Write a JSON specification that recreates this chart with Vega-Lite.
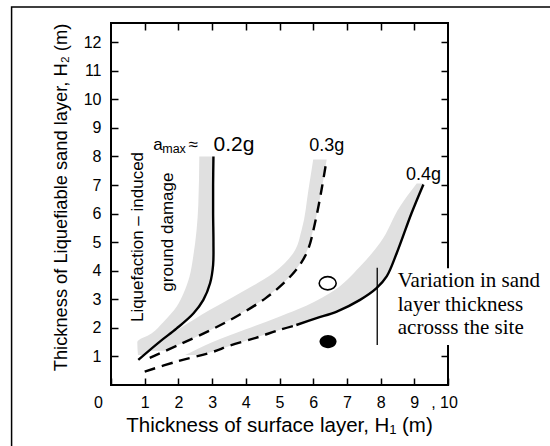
{
  "$schema": "https://vega.github.io/schema/vega-lite/v6.json",
  "width": 337,
  "height": 362,
  "autosize": {"type": "none"},
  "padding": {"left": 111, "top": 23, "right": 102, "bottom": 61},
  "background": "white",
  "config": {
    "font": "Liberation Sans",
    "view": {"stroke": "black", "strokeWidth": 2},
    "axis": {
      "grid": false, "domain": false, "tickColor": "black", "tickWidth": 1.5, "labelFlush": false,
      "labelColor": "black", "titleColor": "black",
      "labelFont": "Liberation Sans", "titleFont": "Liberation Sans", "titleFontWeight": "normal"
    }
  },
  "datasets": {
    "frame": [{"x": -2.95, "x2": 13.05, "y": 13.23, "y2": -3}],
    "box": [{"x": 8.34, "x2": 14, "y": 1.4, "y2": 4.09}],
    "vline": [{"x": 7.9, "y": 1.4, "y2": 4.1}],
    "pts": [{"x": 6.43, "y": 3.56, "f": 0}, {"x": 6.44, "y": 1.52, "f": 1}],
    "bands": [
      {"g": "0.2g", "y": 1.05, "x": 0.8, "x2": 0.95},
      {"g": "0.2g", "y": 1.5, "x": 0.78, "x2": 1.43},
      {"g": "0.2g", "y": 1.8, "x": 1.2, "x2": 1.75},
      {"g": "0.2g", "y": 2.2, "x": 1.55, "x2": 2.16},
      {"g": "0.2g", "y": 2.75, "x": 1.95, "x2": 2.6},
      {"g": "0.2g", "y": 3.2, "x": 2.15, "x2": 2.82},
      {"g": "0.2g", "y": 3.8, "x": 2.33, "x2": 2.98},
      {"g": "0.2g", "y": 4.5, "x": 2.44, "x2": 3.03},
      {"g": "0.2g", "y": 6.3, "x": 2.59, "x2": 3.03},
      {"g": "0.2g", "y": 8.0, "x": 2.62, "x2": 3.04},
      {"g": "0.3g", "y": 1.2, "x": 1.15, "x2": 1.62},
      {"g": "0.3g", "y": 1.45, "x": 1.3, "x2": 2.09},
      {"g": "0.3g", "y": 1.95, "x": 2.0, "x2": 3.0},
      {"g": "0.3g", "y": 2.63, "x": 2.94, "x2": 4.04},
      {"g": "0.3g", "y": 3.22, "x": 3.83, "x2": 4.77},
      {"g": "0.3g", "y": 3.92, "x": 4.82, "x2": 5.4},
      {"g": "0.3g", "y": 4.62, "x": 5.41, "x2": 5.79},
      {"g": "0.3g", "y": 5.44, "x": 5.66, "x2": 6.0},
      {"g": "0.3g", "y": 6.84, "x": 5.86, "x2": 6.25},
      {"g": "0.3g", "y": 7.89, "x": 6.0, "x2": 6.4},
      {"g": "0.4g", "y": 1.05, "x": 2.2, "x2": 2.68},
      {"g": "0.4g", "y": 1.5, "x": 3.0, "x2": 3.87},
      {"g": "0.4g", "y": 1.95, "x": 4.0, "x2": 5.06},
      {"g": "0.4g", "y": 2.4, "x": 5.01, "x2": 6.26},
      {"g": "0.4g", "y": 2.63, "x": 5.51, "x2": 6.8},
      {"g": "0.4g", "y": 3.22, "x": 6.5, "x2": 7.68},
      {"g": "0.4g", "y": 4.15, "x": 7.39, "x2": 8.31},
      {"g": "0.4g", "y": 4.97, "x": 7.98, "x2": 8.59},
      {"g": "0.4g", "y": 6.26, "x": 8.58, "x2": 9.0},
      {"g": "0.4g", "y": 7.05, "x": 9.07, "x2": 9.27}
    ],
    "curves": [
      {"s": "0.2g", "d": 0, "i": 1, "x": 0.81, "y": 0.88},
      {"s": "0.2g", "d": 0, "i": 2, "x": 1.45, "y": 1.52},
      {"s": "0.2g", "d": 0, "i": 3, "x": 1.95, "y": 1.98},
      {"s": "0.2g", "d": 0, "i": 4, "x": 2.45, "y": 2.51},
      {"s": "0.2g", "d": 0, "i": 5, "x": 2.74, "y": 2.98},
      {"s": "0.2g", "d": 0, "i": 6, "x": 2.94, "y": 3.56},
      {"s": "0.2g", "d": 0, "i": 7, "x": 3.03, "y": 4.2},
      {"s": "0.2g", "d": 0, "i": 8, "x": 3.04, "y": 5.0},
      {"s": "0.2g", "d": 0, "i": 9, "x": 3.03, "y": 6.0},
      {"s": "0.2g", "d": 0, "i": 10, "x": 3.03, "y": 7.0},
      {"s": "0.2g", "d": 0, "i": 11, "x": 3.04, "y": 8.0},
      {"s": "0.3g", "d": 1, "i": 1, "x": 1.15, "y": 0.95},
      {"s": "0.3g", "d": 1, "i": 2, "x": 2.0, "y": 1.4},
      {"s": "0.3g", "d": 1, "i": 3, "x": 3.0, "y": 1.95},
      {"s": "0.3g", "d": 1, "i": 4, "x": 3.8, "y": 2.45},
      {"s": "0.3g", "d": 1, "i": 5, "x": 4.6, "y": 3.05},
      {"s": "0.3g", "d": 1, "i": 6, "x": 5.2, "y": 3.65},
      {"s": "0.3g", "d": 1, "i": 7, "x": 5.6, "y": 4.2},
      {"s": "0.3g", "d": 1, "i": 8, "x": 5.85, "y": 4.75},
      {"s": "0.3g", "d": 1, "i": 9, "x": 6.05, "y": 5.65},
      {"s": "0.3g", "d": 1, "i": 10, "x": 6.25, "y": 6.85},
      {"s": "0.3g", "d": 1, "i": 11, "x": 6.4, "y": 7.9},
      {"s": "0.4g-a", "d": 1, "i": 1, "x": 1.0, "y": 0.47},
      {"s": "0.4g-a", "d": 1, "i": 2, "x": 1.95, "y": 0.82},
      {"s": "0.4g-a", "d": 1, "i": 3, "x": 3.0, "y": 1.15},
      {"s": "0.4g-a", "d": 1, "i": 4, "x": 3.5, "y": 1.37},
      {"s": "0.4g-a", "d": 1, "i": 5, "x": 4.3, "y": 1.65},
      {"s": "0.4g-a", "d": 1, "i": 6, "x": 5.0, "y": 1.93},
      {"s": "0.4g-a", "d": 1, "i": 7, "x": 5.45, "y": 2.08},
      {"s": "0.4g-b", "d": 0, "i": 1, "x": 5.5, "y": 2.1},
      {"s": "0.4g-b", "d": 0, "i": 2, "x": 6.1, "y": 2.34},
      {"s": "0.4g-b", "d": 0, "i": 3, "x": 6.7, "y": 2.57},
      {"s": "0.4g-b", "d": 0, "i": 4, "x": 7.39, "y": 2.98},
      {"s": "0.4g-b", "d": 0, "i": 5, "x": 7.88, "y": 3.39},
      {"s": "0.4g-b", "d": 0, "i": 6, "x": 8.18, "y": 3.8},
      {"s": "0.4g-b", "d": 0, "i": 7, "x": 8.48, "y": 4.62},
      {"s": "0.4g-b", "d": 0, "i": 8, "x": 8.92, "y": 6.02},
      {"s": "0.4g-b", "d": 0, "i": 9, "x": 9.27, "y": 7.02}
    ],
    "labels": [
      {"id": "a", "x": 1.25, "y": 8.22, "t": "a"},
      {"id": "max", "x": 1.52, "y": 8.12, "t": "max"},
      {"id": "a", "x": 2.3, "y": 8.22, "t": "≈"},
      {"id": "g2", "x": 3.65, "y": 8.2, "t": "0.2g"},
      {"id": "g", "x": 6.4, "y": 8.2, "t": "0.3g"},
      {"id": "g", "x": 9.27, "y": 7.17, "t": "0.4g"},
      {"id": "rot", "x": 0.8, "y": 5.18, "t": "Liquefaction – induced"},
      {"id": "rot", "x": 1.7, "y": 5.35, "t": "ground damage"},
      {"id": "serif", "x": 8.51, "y": 3.64, "t": "Variation in sand"},
      {"id": "serif", "x": 8.51, "y": 2.8, "t": "layer thickness"},
      {"id": "serif", "x": 8.51, "y": 1.99, "t": "acrosss the site"}
    ]
  },
  "encoding": {
    "x": {"field": "x", "type": "quantitative", "scale": {"domain": [0, 10], "nice": false, "zero": false}, "axis": null},
    "y": {"field": "y", "type": "quantitative", "scale": {"domain": [0, 12.67], "nice": false, "zero": false}, "axis": null}
  },
  "layer": [
    {
      "data": {"name": "frame"},
      "mark": {"type": "rect", "filled": false, "stroke": "black", "strokeWidth": 1.5},
      "encoding": {"x2": {"field": "x2"}, "y2": {"field": "y2"}}
    },
    {
      "data": {"name": "bands"},
      "mark": {"type": "area", "orient": "horizontal", "color": "#e0e0e0", "opacity": 1, "interpolate": "monotone"},
      "encoding": {
        "x": {"field": "x", "type": "quantitative", "stack": null, "scale": {"domain": [0, 10], "nice": false, "zero": false}, "axis": null},
        "x2": {"field": "x2"},
        "y": {"field": "y", "type": "quantitative", "scale": {"domain": [0, 12.67], "nice": false, "zero": false}, "axis": null},
        "detail": {"field": "g"}
      }
    },
    {
      "data": {"name": "curves"},
      "transform": [{"filter": "datum.d == 0"}],
      "mark": {"type": "line", "color": "black", "strokeWidth": 2.4, "interpolate": "catmull-rom"},
      "encoding": {
        "x": {"field": "x", "type": "quantitative", "scale": {"domain": [0, 10], "nice": false, "zero": false},
          "axis": {"orient": "bottom", "values": [0, 1, 2, 3, 4, 5, 6, 7, 8, 9, 10], "tickSize": -7, "labelPadding": 16,
            "labelFontSize": 16, "labelExpr": "datum.value == 10 ? ', 10' : datum.label",
            "labelOffset": {"condition": [{"test": "datum.value == 0", "value": -13}, {"test": "datum.value == 10", "value": -4}], "value": 0},
            "title": "Thickness of surface layer, H₁ (m)", "titleFontSize": 20.5, "titleX": 168, "titleY": 40,
            "titleBaseline": "middle", "titleAlign": "center"}},
        "y": {"field": "y", "type": "quantitative", "scale": {"domain": [0, 12.67], "nice": false, "zero": false},
          "axis": {"orient": "left", "values": [1, 2, 3, 4, 5, 6, 7, 8, 9, 10, 11, 12], "tickSize": -7, "labelPadding": 17,
            "labelFontSize": 16, "title": "Thickness of Liquefiable sand layer, H₂ (m)", "titleFontSize": 18.3,
            "titleX": -50, "titleY": 174, "titleAngle": 270, "titleBaseline": "middle", "titleAlign": "center"}},
        "detail": {"field": "s"},
        "order": {"field": "i", "type": "quantitative"}
      }
    },
    {
      "data": {"name": "curves"},
      "transform": [{"filter": "datum.d == 1"}],
      "mark": {"type": "line", "color": "black", "strokeWidth": 2.4, "strokeDash": [11, 7], "interpolate": "catmull-rom"},
      "encoding": {"detail": {"field": "s"}, "order": {"field": "i", "type": "quantitative"}}
    },
    {
      "data": {"name": "vline"},
      "mark": {"type": "rule", "color": "black", "strokeWidth": 1.3},
      "encoding": {
        "x": {"field": "x", "type": "quantitative", "scale": {"domain": [0, 10], "nice": false, "zero": false},
          "axis": {"orient": "top", "values": [1, 2, 3, 4, 5, 6, 7, 8, 9], "tickSize": -7, "labels": false, "title": null}},
        "y": {"field": "y", "type": "quantitative", "scale": {"domain": [0, 12.67], "nice": false, "zero": false},
          "axis": {"orient": "right", "values": [1, 2, 3, 4, 5, 6, 7, 8, 9, 10, 11, 12], "tickSize": -7, "labels": false, "title": null}},
        "y2": {"field": "y2"}
      }
    },
    {
      "data": {"name": "pts"},
      "transform": [{"filter": "datum.f == 0"}],
      "mark": {"type": "point", "shape": "M-1,0A1,0.78 0 1,0 1,0A1,0.78 0 1,0 -1,0Z", "size": 289, "filled": false, "stroke": "black", "strokeWidth": 1.6, "opacity": 1}
    },
    {
      "data": {"name": "pts"},
      "transform": [{"filter": "datum.f == 1"}],
      "mark": {"type": "point", "shape": "M-1,0A1,0.78 0 1,0 1,0A1,0.78 0 1,0 -1,0Z", "size": 289, "filled": true, "color": "black", "opacity": 1}
    },
    {
      "data": {"name": "box"},
      "mark": {"type": "rect", "color": "white"},
      "encoding": {"x2": {"field": "x2"}, "y2": {"field": "y2"}}
    },
    {
      "data": {"name": "labels"},
      "transform": [{"filter": {"field": "id", "equal": "a"}}],
      "mark": {"type": "text", "fontSize": 17, "align": "left", "baseline": "alphabetic", "color": "black"},
      "encoding": {"text": {"field": "t"}}
    },
    {
      "data": {"name": "labels"},
      "transform": [{"filter": {"field": "id", "equal": "max"}}],
      "mark": {"type": "text", "fontSize": 12.5, "align": "left", "baseline": "alphabetic", "color": "black"},
      "encoding": {"text": {"field": "t"}}
    },
    {
      "data": {"name": "labels"},
      "transform": [{"filter": {"field": "id", "equal": "g2"}}],
      "mark": {"type": "text", "fontSize": 21, "align": "center", "baseline": "alphabetic", "color": "black"},
      "encoding": {"text": {"field": "t"}}
    },
    {
      "data": {"name": "labels"},
      "transform": [{"filter": {"field": "id", "equal": "g"}}],
      "mark": {"type": "text", "fontSize": 18, "align": "center", "baseline": "alphabetic", "color": "black"},
      "encoding": {"text": {"field": "t"}}
    },
    {
      "data": {"name": "labels"},
      "transform": [{"filter": {"field": "id", "equal": "rot"}}],
      "mark": {"type": "text", "fontSize": 17, "angle": 270, "align": "center", "baseline": "middle", "color": "black"},
      "encoding": {"text": {"field": "t"}}
    },
    {
      "data": {"name": "labels"},
      "transform": [{"filter": {"field": "id", "equal": "serif"}}],
      "mark": {"type": "text", "font": "Liberation Serif", "fontSize": 21, "align": "left", "baseline": "middle", "color": "black"},
      "encoding": {"text": {"field": "t"}}
    }
  ],
  "resolve": {"axis": {"x": "independent", "y": "independent"}}
}
